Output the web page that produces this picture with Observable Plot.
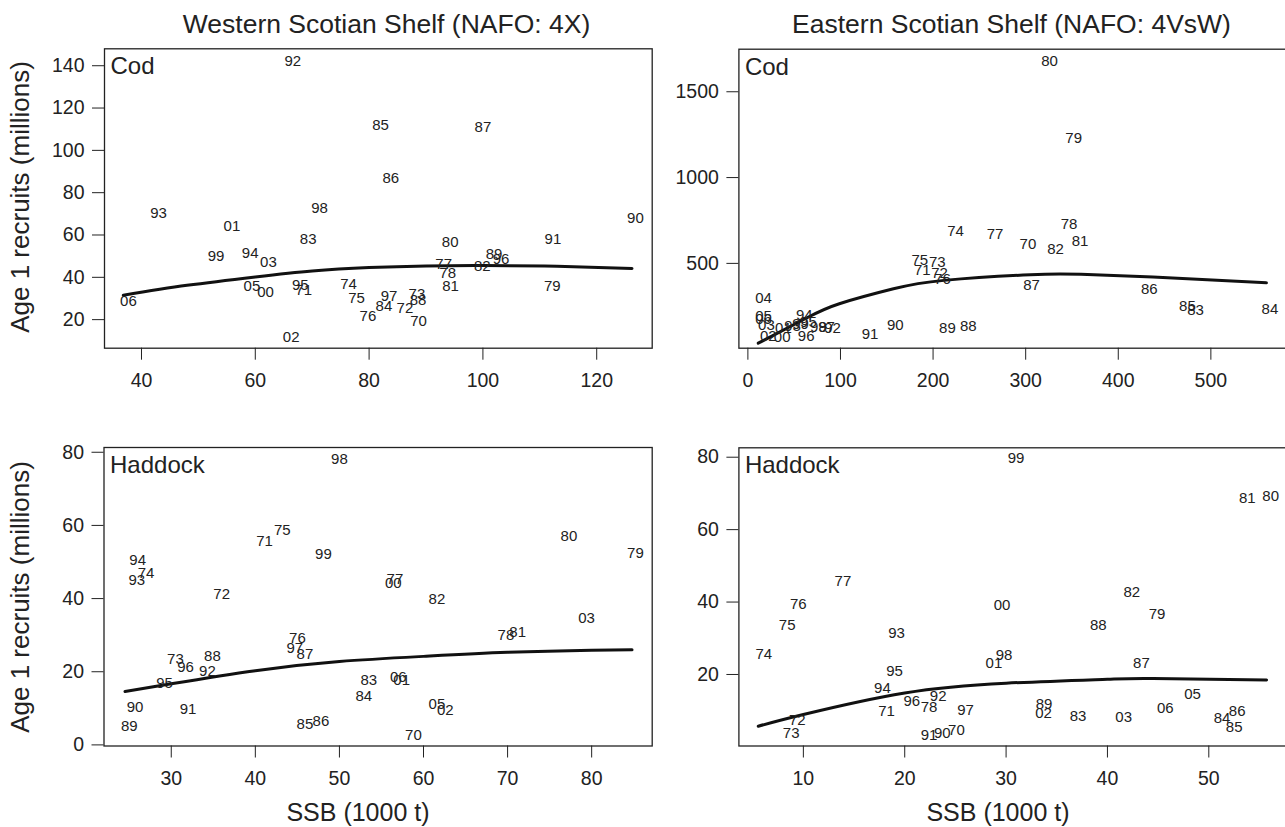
<!DOCTYPE html>
<html><head><meta charset="utf-8">
<script src="https://cdn.jsdelivr.net/npm/d3@7"></script>
<script src="https://cdn.jsdelivr.net/npm/@observablehq/plot@0.6"></script>
<style>
html,body{margin:0;padding:0;overflow:hidden;background:#fff;}
#root{position:relative;width:1300px;height:827px;color:#222;}
</style></head><body><div id="root"></div>
<script>
// ---------- Western Scotian Shelf (4X) Cod ----------
const wCodYears = ["70","71","72","73","74","75","76","77","78","79","80","81","82","83","84","85","86","87","88","89","90","91","92","93","94","95","96","97","98","99","00","01","02","03","05","06"];
const wCodSSB   = [88.7,68.5,86.3,88.4,76.4,77.8,79.8,93.1,93.8,112.2,94.25,94.3,99.9,69.3,82.6,82.0,83.8,100.0,88.6,101.95,126.8,112.3,66.6,43.0,59.1,67.9,103.2,83.5,71.3,53.1,61.8,55.9,66.3,62.3,59.4,37.7];
const wCodRec   = [19.2,34.0,25.5,31.8,36.9,30.1,21.7,46.0,41.9,35.7,56.7,35.6,45.2,58.2,26.3,112.1,86.7,110.9,29.3,51.1,67.9,57.8,142.1,70.4,51.3,36.1,48.7,31.0,72.5,50.1,32.8,64.0,11.8,47.1,35.6,28.8];
const wCodFitSSB = [36.8,48,60,70,80,90,100,113,126.2];
const wCodFitRec = [31.5,36.2,40.2,43.0,44.6,45.4,45.6,45.2,44.2];

// ---------- Eastern Scotian Shelf (4VsW) Cod ----------
const eCodYears = ["70","71","72","73","74","75","76","77","78","79","80","81","82","83","84","85","86","87","88","89","90","91","92","93","94","95","96","97","98","99","00","01","02","03","04","05","06"];
const eCodSSB   = [302.4,188.3,207,204.6,224.2,185.6,210.1,267,346.8,351.8,325.7,358.7,332.3,483.4,563.8,474.7,433.5,306.3,238.1,215.5,159.2,131.9,91.4,48.2,61,65.4,63,84.9,76.2,56.8,37,38.4,22,20,17,17,17];
const eCodRec   = [609,463,440,507.6,685,517.5,410.7,669,727.5,1229,1680,628,580,229.9,233.4,251,352,371.6,136.5,124.9,138.3,89.8,121,132,197,156,76,127,127,144,68,121,74,138,299,191,173];
const eCodFitSSB = [11.2,63.8,98.8,157.2,211.7,305,359.6,437.4,560];
const eCodFitRec = [35,183,265,352,401,434,436,420,387];

// ---------- Western Scotian Shelf (4X) Haddock ----------
const wHadYears = ["70","71","72","73","74","75","76","77","78","79","80","81","82","83","84","85","86","87","88","89","90","91","92","93","94","95","96","97","98","99","00","01","02","03","05","06"];
const wHadSSB   = [58.8,41.1,36.0,30.5,27.0,43.2,45.0,56.6,69.8,85.2,77.3,71.2,61.6,53.5,52.9,45.9,47.8,45.9,34.9,25.0,25.7,32.0,34.3,25.9,26.0,29.2,31.7,44.7,50.0,48.1,56.4,57.4,62.6,79.4,61.6,57.0];
const wHadRec   = [2.7,55.6,41.1,23.5,46.9,58.6,29.3,45.4,30.1,52.4,57.0,30.7,39.8,17.6,13.2,5.7,6.4,24.9,24.2,5.0,10.3,9.8,20.1,45.1,50.4,16.9,21.2,26.5,78.2,52.1,44.2,17.8,9.6,34.6,11.2,18.5];
const wHadFitSSB = [24.5,30,40,50,60,70,80,84.8];
const wHadFitRec = [14.6,16.7,20.3,22.8,24.2,25.3,25.9,26.0];

// ---------- Eastern Scotian Shelf (4VsW) Haddock ----------
const eHadYears = ["70","71","72","73","74","75","76","77","78","79","80","81","82","83","84","85","86","87","88","89","90","91","92","93","94","95","96","97","98","99","00","01","02","03","05","06"];
const eHadSSB   = [25.1,18.2,9.4,8.8,6.1,8.4,9.5,13.9,22.4,44.9,56.1,53.8,42.4,37.1,51.3,52.5,52.8,43.35,39.1,33.75,23.7,22.4,23.3,19.2,17.8,19.0,20.7,26.0,29.8,30.98,29.6,28.8,33.7,41.6,48.4,45.7];
const eHadRec   = [4.7,9.9,7.5,3.9,25.5,33.5,39.3,45.8,11.0,36.6,69.2,68.8,42.6,8.4,8.0,5.4,9.8,23.2,33.7,11.9,3.8,3.1,13.9,31.4,16.2,20.9,12.6,10.2,25.2,79.6,39.1,23.2,9.3,8.2,14.5,10.7];
const eHadFitSSB = [5.55,10,20,30,40,44.5,55.7];
const eHadFitRec = [5.7,8.95,14.9,17.6,18.7,18.9,18.5];

// ---------- Text ----------
const regionTitles = ["Western Scotian Shelf (NAFO: 4X)", "Eastern Scotian Shelf (NAFO: 4VsW)"];
const speciesNames = ["Cod", "Haddock"];
const yAxisLabel = "Age 1 recruits (millions)";
const xAxisLabel = "SSB (1000 t)";

const wCodXTicks = [40,60,80,100,120], wCodYTicks = [20,40,60,80,100,120,140];
const eCodXTicks = [0,100,200,300,400,500], eCodYTicks = [500,1000,1500];
const wHadXTicks = [30,40,50,60,70,80], wHadYTicks = [0,20,40,60,80];
const eHadXTicks = [10,20,30,40,50], eHadYTicks = [20,40,60,80];

const FONT = '"Liberation Sans", Arial, Helvetica, sans-serif';
const INK = "#222";
const root = document.getElementById("root");

function panel(o) {
  const pts = o.years.map((yr, i) => ({yr, x: o.ssb[i], y: o.rec[i]}));
  const fit = o.fitX.map((x, i) => ({x, y: o.fitY[i]}));
  const p = Plot.plot({
    width: o.width, height: o.height,
    marginLeft: o.m[0], marginTop: o.m[1], marginRight: o.m[2], marginBottom: o.m[3],
    style: {fontFamily: FONT, fontSize: "19.5px", color: INK, background: "transparent", maxWidth: "none", overflow: "visible"},
    x: {domain: o.xDomain, label: null},
    y: {domain: o.yDomain, label: null},
    marks: [
      Plot.line(fit, {x: "x", y: "y", curve: "natural", stroke: "#111", strokeWidth: 3}),
      Plot.text(pts, {x: "x", y: "y", text: "yr", fontSize: 15, fill: INK}),
      Plot.frame({stroke: INK, strokeWidth: 1.3}),
      Plot.axisX({ticks: o.xTicks, tickSize: 12, tickPadding: 13, tickFormat: d => String(d), label: null, fontSize: 19.5, stroke: INK, fill: INK}),
      Plot.axisY({ticks: o.yTicks, tickSize: 12, tickPadding: 8, tickFormat: d => String(d), label: null, fontSize: 19.5, stroke: INK, fill: INK}),
      Plot.text([o.name], {frameAnchor: "top-left", text: d => d, dx: 6, dy: 25.5, lineAnchor: "bottom", textAnchor: "start", fontSize: 24, fill: INK})
    ]
  });
  p.style.position = "absolute";
  p.style.left = o.left + "px";
  p.style.top = o.top + "px";
  root.appendChild(p);
}

panel({years: wCodYears, ssb: wCodSSB, rec: wCodRec, fitX: wCodFitSSB, fitY: wCodFitRec,
  xDomain: [33.5, 129.75], yDomain: [6.5, 148], xTicks: wCodXTicks, yTicks: wCodYTicks, name: speciesNames[0],
  left: 0, top: 0, width: 660, height: 400, m: [104, 48.3, 8.3, 52.3]});
panel({years: eCodYears, ssb: eCodSSB, rec: eCodRec, fitX: eCodFitSSB, fitY: eCodFitRec,
  xDomain: [-9.7, 586], yDomain: [5.8, 1748], xTicks: eCodXTicks, yTicks: eCodYTicks, name: speciesNames[0],
  left: 660, top: 0, width: 640, height: 400, m: [78.4, 48.7, 10, 52.3]});
panel({years: wHadYears, ssb: wHadSSB, rec: wHadRec, fitX: wHadFitSSB, fitY: wHadFitRec,
  xDomain: [22.0, 87.2], yDomain: [-0.3, 81.3], xTicks: wHadXTicks, yTicks: wHadYTicks, name: speciesNames[1],
  left: 0, top: 400, width: 660, height: 427, m: [103.5, 47, 8.3, 81.5]});
panel({years: eHadYears, ssb: eHadSSB, rec: eHadRec, fitX: eHadFitSSB, fitY: eHadFitRec,
  xDomain: [3.64, 58.06], yDomain: [0.25, 82.6], xTicks: eHadXTicks, yTicks: eHadYTicks, name: speciesNames[1],
  left: 660, top: 400, width: 640, height: 427, m: [78.4, 47.3, 10, 81.5]});

// ---------- Outer labels ----------
const ov = d3.select(root).append("svg")
  .attr("width", 1300).attr("height", 827)
  .style("position", "absolute").style("left", "0px").style("top", "0px")
  .style("pointer-events", "none")
  .attr("font-family", FONT).attr("fill", INK);
ov.selectAll("text.title").data([[386.5, regionTitles[0]], [1011.5, regionTitles[1]]]).join("text")
  .attr("x", d => d[0]).attr("y", 33).attr("text-anchor", "middle").attr("font-size", 26.5).text(d => d[1]);
ov.selectAll("text.ylab").data([197, 597]).join("text")
  .attr("transform", d => `translate(28.5,${d}) rotate(-90)`).attr("text-anchor", "middle").attr("font-size", 26).text(yAxisLabel);
ov.selectAll("text.xlab").data([358, 998]).join("text")
  .attr("x", d => d).attr("y", 821).attr("text-anchor", "middle").attr("font-size", 25).text(xAxisLabel);
</script></body></html>
